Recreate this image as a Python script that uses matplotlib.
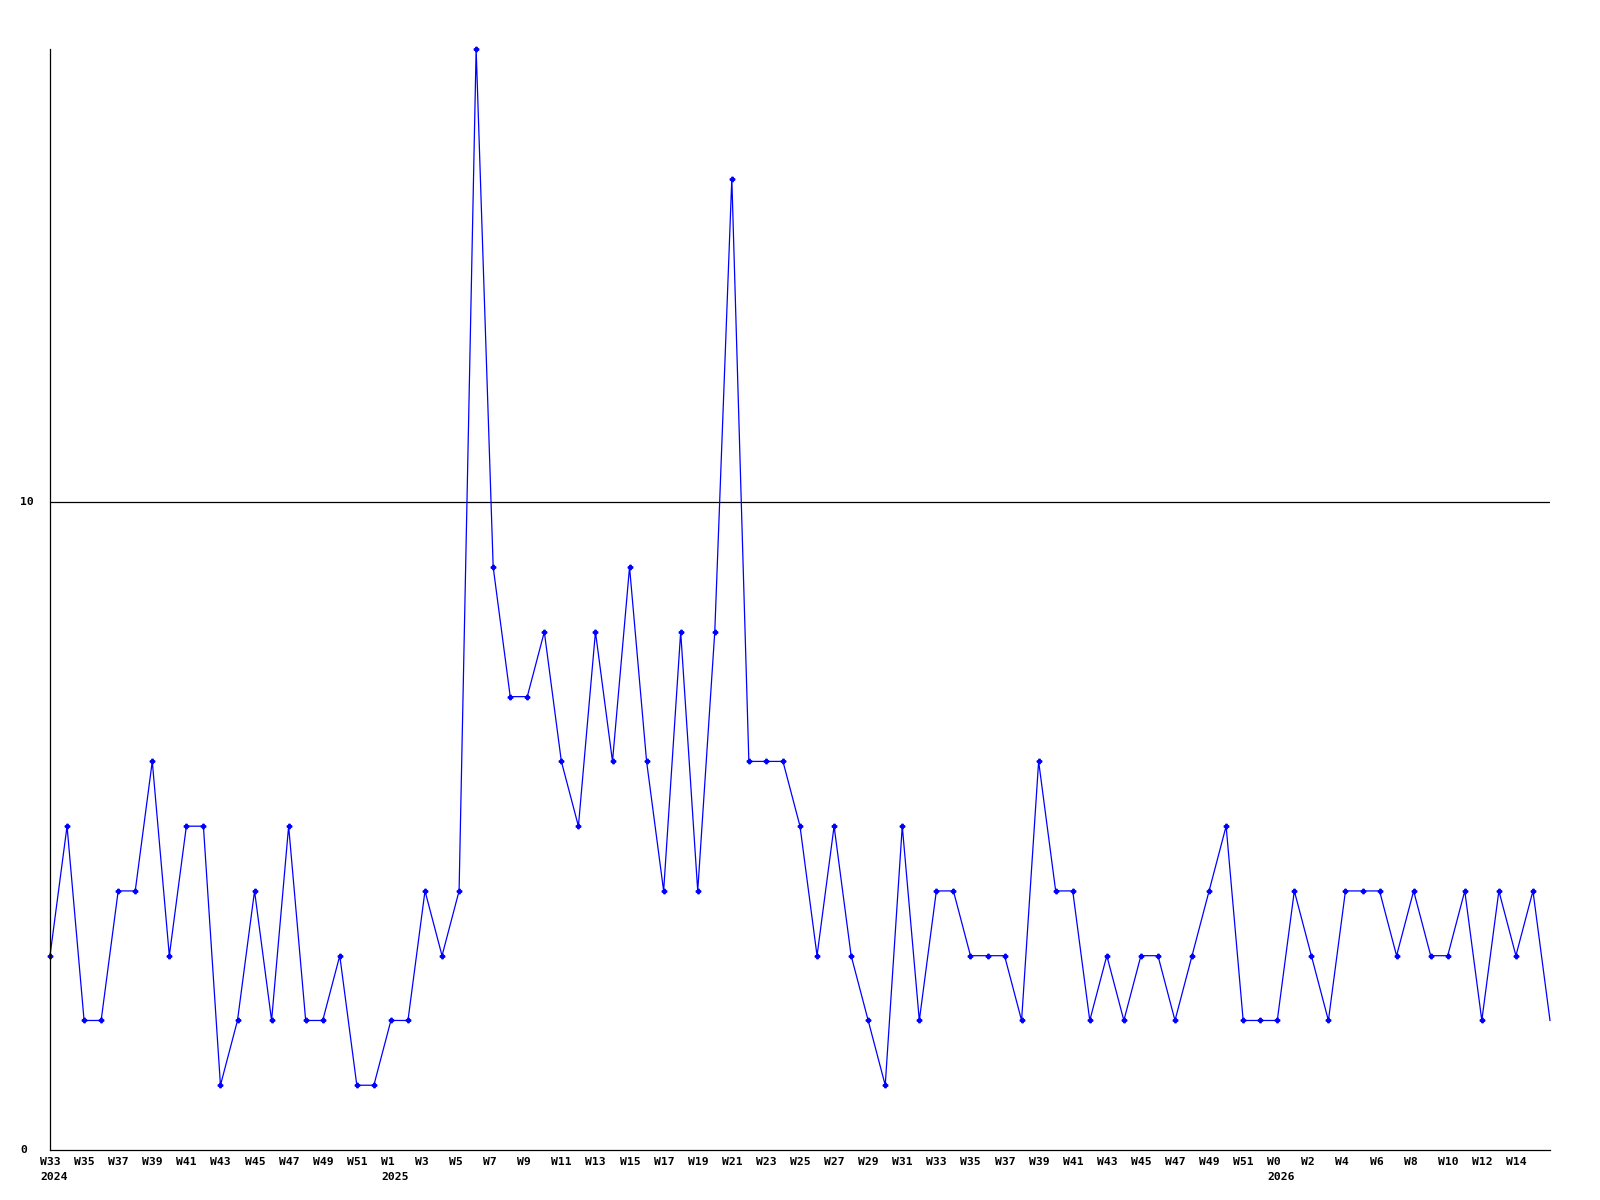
import numpy as np
import matplotlib.pyplot as plt
from matplotlib import transforms

# week numbers shown along the x axis
weeks_2024 = list(range(33, 53))
weeks_2025 = list(range(1, 53))
weeks_2026 = list(range(0, 17))

# weekly counts
counts = [3, 5, 2, 2, 4, 4, 6, 3, 5, 5,
          1, 2, 4, 2, 5, 2, 2, 3, 1, 1,
          2, 2, 4, 3, 4, 17, 9, 7, 7, 8,
          6, 5, 8, 6, 9, 6, 4, 8, 4, 8,
          15, 6, 6, 6, 5, 3, 5, 3, 2, 1,
          5, 2, 4, 4, 3, 3, 3, 2, 6, 4,
          4, 2, 3, 2, 3, 3, 2, 3, 4, 5,
          2, 2, 2, 4, 3, 2, 4, 4, 4, 3,
          4, 3, 3, 4, 2, 4, 3, 4, 2]

weeks = weeks_2024 + weeks_2025 + weeks_2026
years = [2024] * len(weeks_2024) + [2025] * len(weeks_2025) + [2026] * len(weeks_2026)
x = np.arange(len(counts))

fig = plt.figure(figsize=(16, 12), dpi=100)
ax = fig.add_axes([50 / 1600, 1 - 1150 / 1200, 1500 / 1600, 1101 / 1200])

font = dict(family='DejaVu Sans Mono', fontweight='bold', fontsize=8.2)

ax.axhline(10, color='black', linewidth=0.9)
# last week is still in progress: line only, no marker
ax.plot(x, counts, color='#0000FF', linewidth=0.9, marker='P', markersize=3.2,
        markevery=list(range(len(counts) - 1)), clip_on=False)

ax.set_xlim(0, len(counts) - 1)
ax.set_ylim(0, 17)
for s in ['top', 'right']:
    ax.spines[s].set_visible(False)
for s in ['left', 'bottom']:
    ax.spines[s].set_color('black')
    ax.spines[s].set_linewidth(0.9)
ax.set_xticks([])
ax.set_yticks([])

# y labels
ytr = transforms.blended_transform_factory(fig.transFigure, ax.transData)
for v in [0, 10]:
    ax.text(20 / 1600, v, str(v), transform=ytr, ha='left', va='center', **font)

# week / year labels, left-aligned just before each tick
xtr = transforms.blended_transform_factory(ax.transData, fig.transFigure)
off = transforms.ScaledTranslation(-10 / 100, 0, fig.dpi_scale_trans)
prev_year = None
for i, (w, y) in enumerate(zip(weeks, years)):
    if i % 2 == 0 and i < len(weeks) - 1:
        ax.text(i, 1 - 1162 / 1200, f'W{w}', transform=xtr + off,
                ha='left', va='center', **font)
    if y != prev_year:
        ax.text(i, 1 - 1177 / 1200, str(y), transform=xtr + off,
                ha='left', va='center', **font)
        prev_year = y

fig.savefig('out.png', dpi=100)
